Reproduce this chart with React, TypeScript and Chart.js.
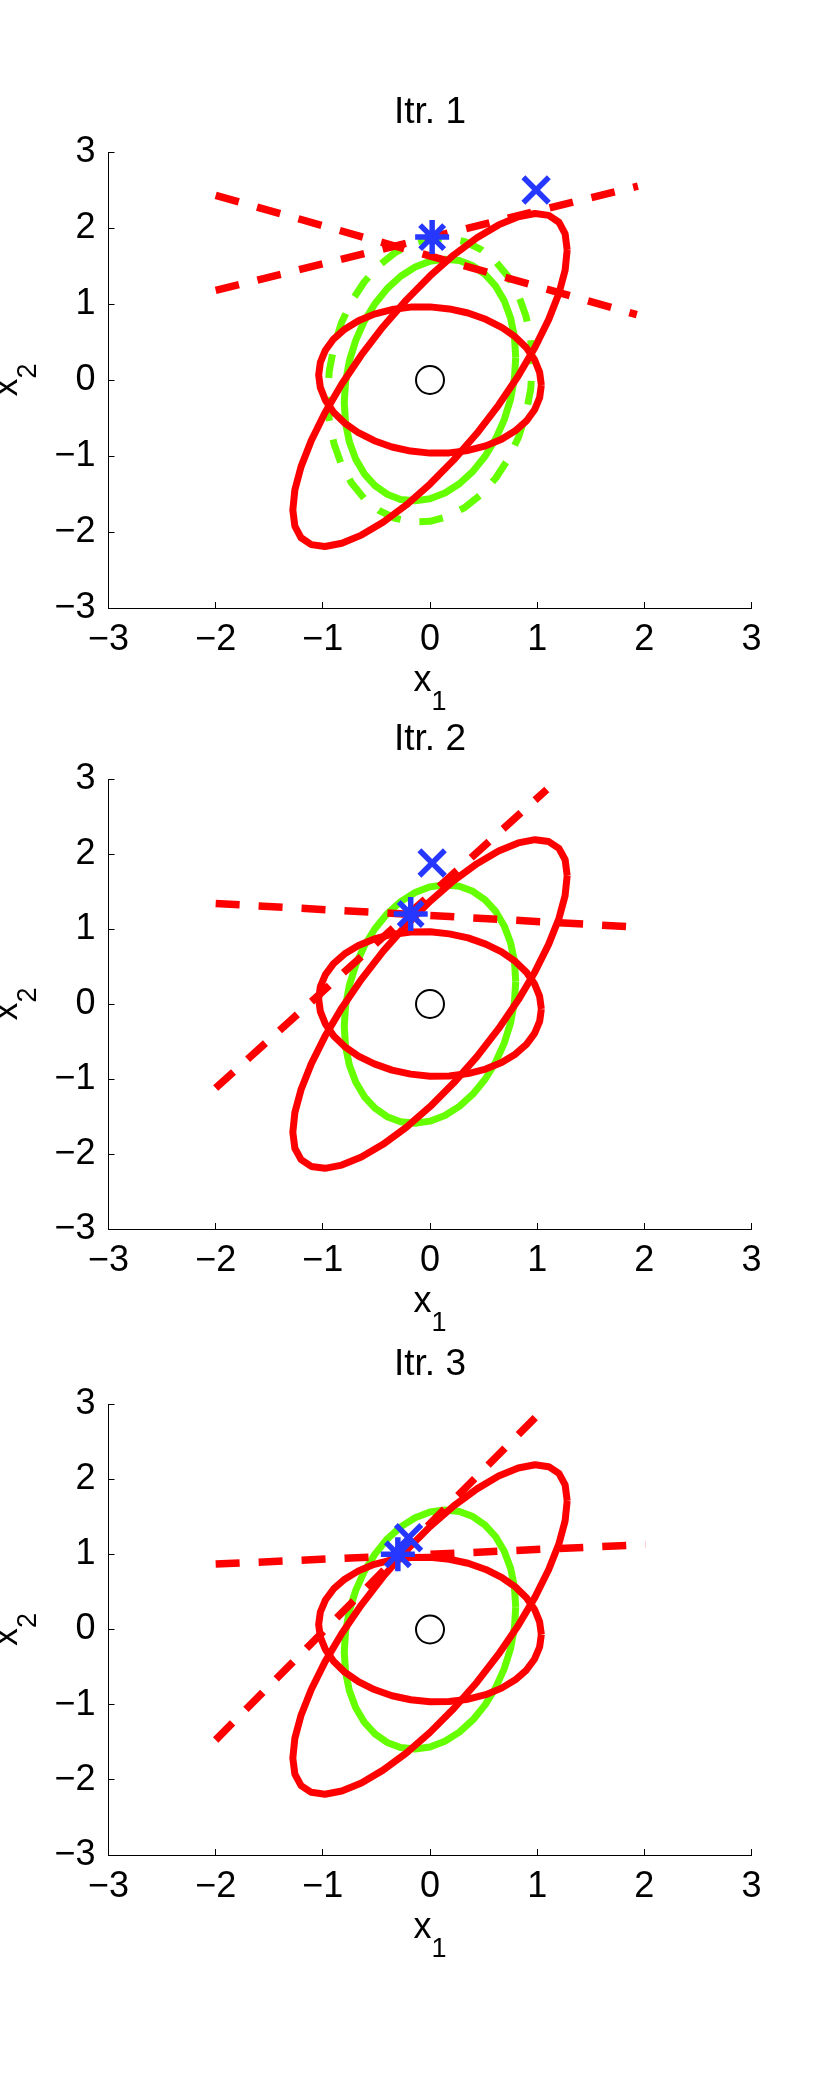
import React, { useEffect, useRef } from 'react';
import { Chart, registerables } from 'chart.js';

Chart.register(...registerables);

type Pt = [number, number];

// ---------------- data ----------------
const TICK_VALUES = [-3, -2, -1, 0, 1, 2, 3];
const PANEL_TITLES = ['Itr. 1', 'Itr. 2', 'Itr. 3'];
const X_LABEL: [string, string] = ['x', '1'];
const Y_LABEL: [string, string] = ['x', '2'];

// red contour, nearly horizontal
const RED_CONTOUR_A: Pt[] = [
  [1.039, -0.067], [1.023, 0.101], [0.976, 0.266], [0.9, 0.423], [0.796, 0.567], [0.668, 0.694],
  [0.52, 0.799], [0.355, 0.881], [0.18, 0.935], [0, 0.962], [-0.18, 0.959], [-0.355, 0.927],
  [-0.52, 0.867], [-0.668, 0.78], [-0.796, 0.669], [-0.9, 0.539], [-0.976, 0.392], [-1.023, 0.233],
  [-1.039, 0.067], [-1.023, -0.101], [-0.976, -0.266], [-0.9, -0.423], [-0.796, -0.567], [-0.668, -0.694],
  [-0.52, -0.799], [-0.355, -0.881], [-0.18, -0.935], [0, -0.962], [0.18, -0.959], [0.355, -0.927],
  [0.52, -0.867], [0.668, -0.78], [0.796, -0.669], [0.9, -0.539], [0.976, -0.392], [1.023, -0.233],
  [1.039, -0.067],
];

// red contour, long tilted one
const RED_CONTOUR_B: Pt[] = [
  [1.28, 1.711], [1.261, 1.923], [1.203, 2.076], [1.108, 2.166], [0.98, 2.191], [0.823, 2.148],
  [0.64, 2.041], [0.438, 1.871], [0.222, 1.645], [0, 1.369], [-0.222, 1.051], [-0.438, 0.701],
  [-0.64, 0.329], [-0.823, -0.052], [-0.98, -0.431], [-1.108, -0.798], [-1.203, -1.14], [-1.261, -1.447],
  [-1.28, -1.711], [-1.261, -1.923], [-1.203, -2.076], [-1.108, -2.166], [-0.98, -2.191], [-0.823, -2.148],
  [-0.64, -2.041], [-0.438, -1.871], [-0.222, -1.645], [0, -1.369], [0.222, -1.051], [0.438, -0.701],
  [0.64, -0.329], [0.823, 0.052], [0.98, 0.431], [1.108, 0.798], [1.203, 1.14], [1.261, 1.447],
  [1.28, 1.711],
];

// green solid contour
const GREEN_CONTOUR: Pt[] = [
  [0.8, 0.3], [0.788, 0.566], [0.752, 0.816], [0.693, 1.041], [0.613, 1.234], [0.514, 1.389],
  [0.4, 1.503], [0.274, 1.571], [0.139, 1.59], [0, 1.562], [-0.139, 1.486], [-0.274, 1.365],
  [-0.4, 1.203], [-0.514, 1.003], [-0.613, 0.774], [-0.693, 0.521], [-0.752, 0.252], [-0.788, -0.024],
  [-0.8, -0.3], [-0.788, -0.566], [-0.752, -0.816], [-0.693, -1.041], [-0.613, -1.234], [-0.514, -1.389],
  [-0.4, -1.503], [-0.274, -1.571], [-0.139, -1.59], [0, -1.562], [0.139, -1.486], [0.274, -1.365],
  [0.4, -1.203], [0.514, -1.003], [0.613, -0.774], [0.693, -0.521], [0.752, -0.252], [0.788, 0.024],
  [0.8, 0.3],
];

// green dashed contour (first panel only)
const GREEN_DASHED_CONTOUR: Pt[] = [
  [0.955, 0.209], [0.94, 0.529], [0.897, 0.833], [0.827, 1.111], [0.732, 1.355], [0.614, 1.559],
  [0.478, 1.715], [0.327, 1.819], [0.166, 1.867], [0, 1.859], [-0.166, 1.795], [-0.327, 1.675],
  [-0.478, 1.505], [-0.614, 1.289], [-0.732, 1.035], [-0.827, 0.749], [-0.897, 0.439], [-0.94, 0.117],
  [-0.955, -0.209], [-0.94, -0.529], [-0.897, -0.833], [-0.827, -1.111], [-0.732, -1.355], [-0.614, -1.559],
  [-0.478, -1.715], [-0.327, -1.819], [-0.166, -1.867], [0, -1.859], [0.166, -1.795], [0.327, -1.675],
  [0.478, -1.505], [0.614, -1.289], [0.732, -1.035], [0.827, -0.749], [0.897, -0.439], [0.94, -0.117],
  [0.955, 0.209],
];

// dashed red lines per panel
const DASHED_LINE_1: Pt[][] = [
  [[-2.0, 2.43], [1.93, 0.86]],
  [[-2.0, 1.34], [2.0, 1.02]],
  [[-2.0, 0.87], [2.01, 1.13]],
];
const DASHED_LINE_2: Pt[][] = [
  [[-2.0, 1.18], [1.94, 2.55]],
  [[-2.0, -1.12], [1.09, 2.86]],
  [[-2.0, -1.47], [1.1, 2.99]],
];

const STAR_POINTS: Pt[] = [[0.02, 1.88], [-0.18, 1.2], [-0.3, 1.0]];
const CROSS_POINTS: Pt[] = [[0.99, 2.5], [0.02, 1.88], [-0.2, 1.22]];
const CENTER_POINT: Pt = [0, 0];

// ---------------- styling / layout ----------------
const FONT = '"Liberation Sans", Arial, Helvetica, sans-serif';
const RED = '#ff0000';
const GREEN = '#66ff00';
const BLUE = '#2638ff';

const PAGE_W = 830;
const PAGE_H = 2079;
const CANVAS_H = 690;
const PLOT_LEFT = 108.5;
const PLOT_RIGHT = 751.5;
const PLOT_TOPS = [152, 779, 1404];
const PLOT_BOTTOMS = [608, 1229, 1855];
const TOP_PAD = 112;
const X_AXIS_H = 60;

const toXY = (pts: Pt[]) => pts.map(([x, y]) => ({ x, y }));
const fmt = (v: number) => (v < 0 ? '\u2212' + Math.abs(v) : String(v));

function drawSubLabel(ctx: CanvasRenderingContext2D, base: string, sub: string, cx: number, baseline: number) {
  ctx.font = `36px ${FONT}`;
  const w1 = ctx.measureText(base).width;
  ctx.font = `27px ${FONT}`;
  const w2 = ctx.measureText(sub).width;
  const start = cx - (w1 + w2) / 2;
  ctx.textAlign = 'left';
  ctx.textBaseline = 'alphabetic';
  ctx.font = `36px ${FONT}`;
  ctx.fillText(base, start, baseline);
  ctx.font = `27px ${FONT}`;
  ctx.fillText(sub, start + w1, baseline + 19);
}

function makeLabelsPlugin(title: string) {
  return {
    id: 'mlLabels',
    afterDraw(chart: any) {
      const { ctx, chartArea } = chart;
      const cx = (chartArea.left + chartArea.right) / 2;
      const cy = (chartArea.top + chartArea.bottom) / 2;
      ctx.save();
      ctx.fillStyle = '#000';
      ctx.font = `37px ${FONT}`;
      ctx.textAlign = 'center';
      ctx.textBaseline = 'alphabetic';
      ctx.fillText(title, cx, chartArea.top - 29);
      drawSubLabel(ctx, X_LABEL[0], X_LABEL[1], cx, chartArea.bottom + 83);
      ctx.translate(17, cy);
      ctx.rotate(-Math.PI / 2);
      drawSubLabel(ctx, Y_LABEL[0], Y_LABEL[1], 0, 0);
      ctx.restore();
    },
  };
}

function lineSet(pts: Pt[], color: string, width: number, dashed: boolean) {
  return {
    data: toXY(pts),
    showLine: true,
    borderColor: color,
    backgroundColor: color,
    borderWidth: width,
    borderDash: dashed ? [24, 19] : [],
    borderJoinStyle: 'round',
    borderCapStyle: 'butt',
    pointRadius: 0,
    pointHoverRadius: 0,
    fill: false,
    tension: 0,
  };
}

function markerSet(pt: Pt, style: string, radius: number, color: string, width: number) {
  return {
    data: toXY([pt]),
    showLine: false,
    pointStyle: style,
    pointRadius: radius,
    pointHoverRadius: radius,
    pointBorderColor: color,
    pointBackgroundColor: 'rgba(0,0,0,0)',
    pointBorderWidth: width,
    pointHoverBorderWidth: width,
  };
}

function makeConfig(i: number): any {
  const canvasTop = PLOT_TOPS[i] - TOP_PAD;
  const bottomInCanvas = PLOT_BOTTOMS[i] - canvasTop;
  const padBottom = CANVAS_H - bottomInCanvas - X_AXIS_H;

  // first dataset is drawn on top
  const datasets: any[] = [
    markerSet(CENTER_POINT, 'circle', 14, '#000', 2),
    markerSet(STAR_POINTS[i], 'star', 17, BLUE, 5.5),
    markerSet(CROSS_POINTS[i], 'crossRot', 18, BLUE, 5.5),
    lineSet(DASHED_LINE_1[i], RED, 7.5, true),
    lineSet(DASHED_LINE_2[i], RED, 7.5, true),
    lineSet(RED_CONTOUR_A, RED, 7, false),
    lineSet(RED_CONTOUR_B, RED, 7, false),
    lineSet(GREEN_CONTOUR, GREEN, 7, false),
  ];
  if (i === 0) datasets.push(lineSet(GREEN_DASHED_CONTOUR, GREEN, 7, true));

  const tickFont = { family: FONT, size: 36 };
  const axisBase = (pos: 'bottom' | 'left', padding: number) => ({
    type: 'linear',
    position: pos,
    min: -3,
    max: 3,
    grid: { drawOnChartArea: false, drawTicks: true, tickLength: -6, color: '#000', lineWidth: 1 },
    border: { display: true, color: '#000', width: 1 },
    ticks: {
      font: tickFont,
      color: '#000',
      padding,
      autoSkip: false,
      maxRotation: 0,
      minRotation: 0,
      callback: (v: number) => fmt(v),
    },
    afterBuildTicks: (s: any) => {
      s.ticks = TICK_VALUES.map((v) => ({ value: v }));
    },
  });

  return {
    type: 'scatter',
    data: { datasets },
    options: {
      animation: false,
      responsive: false,
      maintainAspectRatio: false,
      devicePixelRatio: 1,
      events: [],
      layout: { padding: { left: 0, right: PAGE_W - PLOT_RIGHT, top: TOP_PAD, bottom: padBottom } },
      plugins: { legend: { display: false }, title: { display: false }, tooltip: { enabled: false } },
      scales: {
        x: { ...axisBase('bottom', 16), afterFit: (s: any) => { s.height = X_AXIS_H; } },
        y: { ...axisBase('left', 19), afterFit: (s: any) => { s.width = PLOT_LEFT; } },
      },
    },
    plugins: [makeLabelsPlugin(PANEL_TITLES[i])],
  };
}

export default function App() {
  const r0 = useRef<HTMLCanvasElement>(null);
  const r1 = useRef<HTMLCanvasElement>(null);
  const r2 = useRef<HTMLCanvasElement>(null);
  const refs = [r0, r1, r2];

  useEffect(() => {
    const charts = refs.map((r, i) => new Chart(r.current as HTMLCanvasElement, makeConfig(i)));
    return () => charts.forEach((c) => c.destroy());
  }, []);

  return (
    <div style={{ position: 'absolute', left: 0, top: 0, width: PAGE_W, height: PAGE_H, background: '#fff', overflow: 'hidden' }}>
      {refs.map((r, i) => (
        <canvas
          key={i}
          ref={r}
          width={PAGE_W}
          height={CANVAS_H}
          style={{ position: 'absolute', left: 0, top: PLOT_TOPS[i] - TOP_PAD, width: PAGE_W, height: CANVAS_H }}
        />
      ))}
    </div>
  );
}
